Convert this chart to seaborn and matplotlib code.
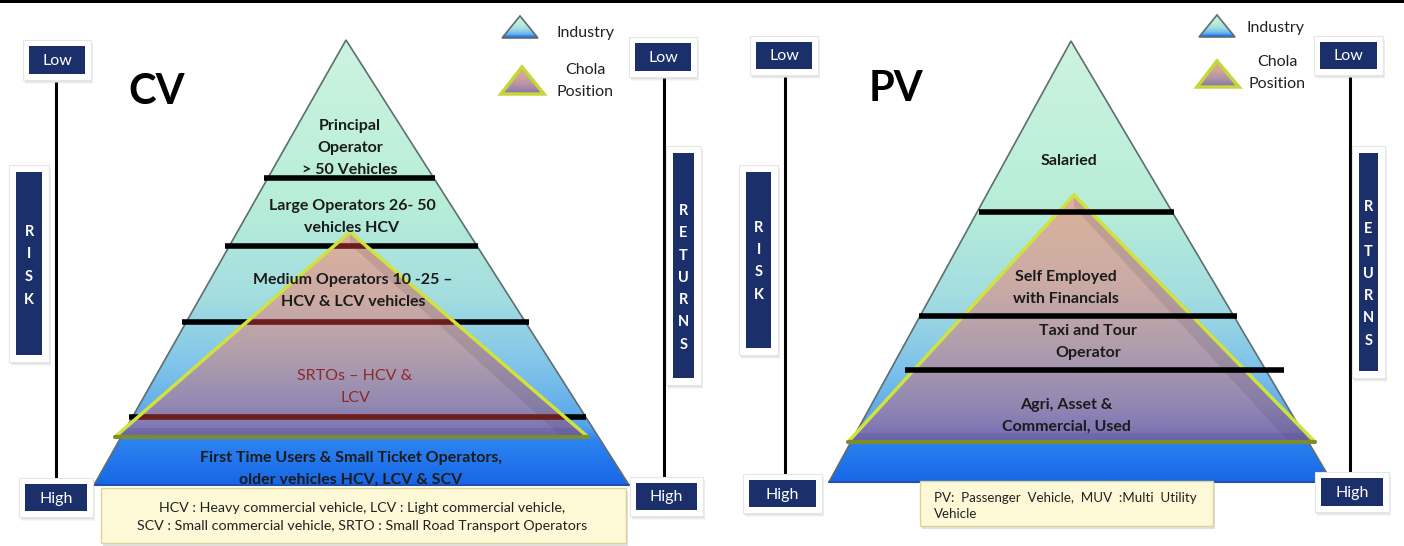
import numpy as np
import matplotlib
matplotlib.use("Agg")
import matplotlib.pyplot as plt
import seaborn as sns
from matplotlib.patches import Polygon, Rectangle
from matplotlib.colors import LinearSegmentedColormap

# ---------------- content ----------------
cv_title = "CV"
cv_segments = [
    "Principal\nOperator\n> 50 Vehicles",
    "Large Operators 26- 50\nvehicles HCV",
    "Medium Operators 10 -25 –\nHCV & LCV vehicles",
    "SRTOs – HCV &\nLCV",
    "First Time Users & Small Ticket Operators,\nolder vehicles HCV, LCV & SCV",
]
cv_note = ("HCV : Heavy commercial vehicle, LCV : Light commercial vehicle,\n"
           "SCV : Small commercial vehicle, SRTO : Small Road Transport Operators")

pv_title = "PV"
pv_segments = [
    "Salaried",
    "Self Employed\nwith Financials",
    "Taxi and Tour\nOperator",
    "Agri, Asset &\nCommercial, Used",
]
pv_note = "PV:  Passenger  Vehicle,  MUV  :Multi  Utility\nVehicle"

risk_label = "RISK"
returns_label = "RETURNS"
low_label, high_label = "Low", "High"
legend_labels = ["Industry", "Chola\nPosition"]

# ---------------- layout (pixel space) ----------------
W, H = 1404, 546
panels = {
    "cv": dict(
        industry=[(346, 40), (94, 485), (629, 485)],
        chola=[(350, 232), (115, 437), (588, 437)],
        bands=[(178, 264, 435), (246, 225, 478), (322, 182, 529), (417, 129, 586)],
        bands_on_top=False,
        label_xy=[(350, 148), (352, 217), (353, 291), (355, 387), (351, 469)],
        label_colors=["#1b1b1b", "#1b1b1b", "#1b1b1b", "#8b2a2a", "#1b1b1b"],
        label_weights=["bold", "bold", "bold", "normal", "bold"],
        title_xy=(157, 92),
        note_box=(101, 488, 626, 543), note_xy=(362, 517), note_ha="center",
        low_l=(29, 46, 85, 74), line_l=(56, 82, 478), risk=(16, 172, 42, 355),
        risk_y0=232, risk_dy=22.5, high_l=(25, 484, 87, 511),
        low_r=(635, 43, 691, 71), line_r=(664, 78, 478), ret=(673, 153, 694, 378),
        ret_y0=211, ret_dy=22.3, high_r=(636, 483, 697, 510),
        leg_ind=[(520, 16), (502, 38), (538, 38)], leg_cho=[(522, 67), (501, 94), (544, 94)],
        leg_txt=[(585, 33), (585, 81)],
    ),
    "pv": dict(
        industry=[(1071, 41), (829, 482), (1332, 482)],
        chola=[(1074, 195), (848, 442), (1315, 442)],
        bands=[(212, 979, 1174), (316, 919, 1237), (370, 905, 1284)],
        bands_on_top=True,
        label_xy=[(1069, 161), (1066, 288), (1088, 342), (1066, 416)],
        label_colors=["#1b1b1b"] * 4,
        label_weights=["bold"] * 4,
        title_xy=(896, 89),
        note_box=(920, 481, 1213, 526), note_xy=(934, 506), note_ha="left",
        low_l=(756, 42, 812, 69), line_l=(785, 77, 476), risk=(746, 172, 771, 348),
        risk_y0=228, risk_dy=22.2, high_l=(749, 480, 816, 507),
        low_r=(1320, 42, 1377, 69), line_r=(1350, 77, 476), ret=(1359, 153, 1378, 371),
        ret_y0=207, ret_dy=22.3, high_r=(1321, 478, 1383, 506),
        leg_ind=[(1217, 15), (1199, 37), (1235, 37)], leg_cho=[(1217, 61), (1197, 87), (1239, 87)],
        leg_txt=[(1276, 28), (1277, 73)],
    ),
}

NAVY = "#1b2f6b"
industry_cmap = LinearSegmentedColormap.from_list("industry", [
    (0.00, "#cdf3e0"), (0.36, "#b8eed8"), (0.58, "#a3dde0"), (0.74, "#7fc3ea"),
    (0.87, "#56a3ec"), (0.90, "#2d84f0"), (1.00, "#1767e6")])
chola_cmap = LinearSegmentedColormap.from_list("chola", [
    (0.00, "#e2a992"), (0.35, "#d2a39c"), (0.62, "#b796a4"), (0.85, "#9a82aa"),
    (1.00, "#8069aa")])

sns.set_theme(style="white")
plt.rcParams["font.family"] = ["Lato", "DejaVu Sans"]

fig = plt.figure(figsize=(W / 100, H / 100), dpi=100)
ax = fig.add_axes([0, 0, 1, 1])
ax.set_axis_off()


def gradient_fill(pts, cmap, z, alpha=1.0):
    poly = Polygon(pts, closed=True, facecolor="none", edgecolor="none")
    ax.add_patch(poly)
    xs = [p[0] for p in pts]
    ys = [p[1] for p in pts]
    grad = np.linspace(0, 1, 256).reshape(-1, 1)
    im = ax.imshow(grad, cmap=cmap, aspect="auto", alpha=alpha, zorder=z,
                   extent=(min(xs), max(xs), max(ys), min(ys)), origin="upper")
    im.set_clip_path(poly)
    return poly


def chola_span(tri, y):
    (tx, ty), (lx, ly), (rx, ry) = tri
    f = (y - ty) / (ly - ty)
    return tx + f * (lx - tx), tx + f * (rx - tx)


def shadow_box(x0, y0, x1, y1, pad=6):
    for k, a in ((4, 0.06), (3, 0.08), (2, 0.10)):
        ax.add_patch(Rectangle((x0 - pad + k * 0.5, y0 - pad + k), x1 - x0 + 2 * pad,
                               y1 - y0 + 2 * pad, facecolor="#7a7a7a", alpha=a,
                               edgecolor="none", zorder=5))
    ax.add_patch(Rectangle((x0 - pad, y0 - pad), x1 - x0 + 2 * pad, y1 - y0 + 2 * pad,
                           facecolor="white", edgecolor="#e6e6e6", lw=0.8, zorder=6))
    ax.add_patch(Rectangle((x0, y0), x1 - x0, y1 - y0, facecolor=NAVY,
                           edgecolor="none", zorder=7))


def label_box(rect, text):
    x0, y0, x1, y1 = rect
    shadow_box(x0, y0, x1, y1)
    ax.text((x0 + x1) / 2, (y0 + y1) / 2 + 1, text, color="white", fontsize=11.5,
            ha="center", va="center", zorder=8)


def letter_box(rect, word, y0, dy):
    x0, ya, x1, yb = rect
    shadow_box(x0, ya, x1, yb, pad=7)
    for i, ch in enumerate(word):
        ax.text((x0 + x1) / 2, y0 + i * dy, ch, color="white", fontsize=10.5,
                fontweight="bold", ha="center", va="center", zorder=8)


# top rule
ax.add_patch(Rectangle((0, 0), W, 3, facecolor="black", edgecolor="none", zorder=1))

for key, segs, title, note in (("cv", cv_segments, cv_title, cv_note),
                               ("pv", pv_segments, pv_title, pv_note)):
    p = panels[key]

    # industry pyramid
    gradient_fill(p["industry"], industry_cmap, 2)
    ax.add_patch(Polygon(p["industry"], closed=True, facecolor="none",
                         edgecolor="#5e6e70", lw=1.2, zorder=2.1))
    _, (bx, by), (cx, cy) = p["industry"]
    ax.plot([bx, cx], [by, cy], color="#1f4fb0", lw=1.5, zorder=2.2)

    band_z = 4.5 if p["bands_on_top"] else 2.5
    for y, xa, xb in p["bands"]:
        ax.hlines(y, xa, xb, color="black", lw=4, zorder=band_z)

    # Chola position pyramid
    tri = p["chola"]
    cpoly = gradient_fill(tri, chola_cmap, 3, alpha=0.86)
    (tx, ty), (lx, ly), (rx, ry) = tri
    # shaded right face and darker base strip
    shade = Polygon([(tx, ty), (rx, ry), (rx - 26, ry), (tx, ty + 12)], closed=True,
                    facecolor="#3a3550", alpha=0.13, edgecolor="none", zorder=3.1)
    ax.add_patch(shade)
    strip = Rectangle((lx, ly - 9), rx - lx, 9, facecolor="#4a4a90", alpha=0.22,
                      edgecolor="none", zorder=3.1)
    ax.add_patch(strip)
    strip.set_clip_path(cpoly)
    if not p["bands_on_top"]:
        for y, xa, xb in p["bands"]:
            sa, sb = chola_span(tri, y)
            if sb > sa:
                ax.hlines(y, max(sa, xa), min(sb, xb), color="#6e1d1d", lw=4, zorder=3.2)
    ax.plot([lx, tx, rx], [ly, ty, ry], color="#cfe23e", lw=2.5, zorder=3.5,
            solid_joinstyle="miter")
    ax.plot([lx, rx], [ly, ry], color="#7f8c2e", lw=3, zorder=3.5)

    # segment labels
    for txt, (x, y), col, wt in zip(segs, p["label_xy"], p["label_colors"],
                                    p["label_weights"]):
        ax.text(x, y, txt, ha="center", va="center", fontsize=11.5, fontweight=wt,
                color=col, linespacing=1.7, zorder=9)

    ax.text(*p["title_xy"], title, ha="center", va="center", fontsize=30,
            fontweight="bold", color="black", zorder=9)

    # footnote box
    nx0, ny0, nx1, ny1 = p["note_box"]
    ax.add_patch(Rectangle((nx0 + 2, ny0 + 3), nx1 - nx0, ny1 - ny0, facecolor="#8a8a8a",
                           alpha=0.25, edgecolor="none", zorder=5))
    ax.add_patch(Rectangle((nx0, ny0), nx1 - nx0, ny1 - ny0, facecolor="#fdf8d6",
                           edgecolor="#dcd49a", lw=1, zorder=6))
    if p["note_ha"] == "center":
        ax.text(*p["note_xy"], note, ha="center", va="center", fontsize=10.3,
                color="#222222", linespacing=1.65, zorder=9)
    else:
        ax.text(*p["note_xy"], note, ha="left", va="center", fontsize=9.6,
                color="#222222", linespacing=1.45, zorder=9)

    # risk / returns scales
    for (x, ya, yb) in (p["line_l"], p["line_r"]):
        ax.vlines(x, ya, yb, color="black", lw=2.2, zorder=4)
    label_box(p["low_l"], low_label)
    label_box(p["high_l"], high_label)
    label_box(p["low_r"], low_label)
    label_box(p["high_r"], high_label)
    letter_box(p["risk"], risk_label, p["risk_y0"], p["risk_dy"])
    letter_box(p["ret"], returns_label, p["ret_y0"], p["ret_dy"])

    # legend
    gradient_fill(p["leg_ind"], industry_cmap, 3)
    ax.add_patch(Polygon(p["leg_ind"], closed=True, facecolor="none",
                         edgecolor="#5e6e70", lw=1.2, zorder=3.2))
    gradient_fill(p["leg_cho"], chola_cmap, 3)
    ax.add_patch(Polygon(p["leg_cho"], closed=True, facecolor="none",
                         edgecolor="#c4d63a", lw=2.5, zorder=3.2))
    for txt, (x, y) in zip(legend_labels, p["leg_txt"]):
        ax.text(x, y, txt, ha="center", va="center", fontsize=11.5, color="#222222",
                linespacing=1.8, zorder=9)

ax.set_xlim(0, W)
ax.set_ylim(H, 0)
fig.savefig("out.png", dpi=100, facecolor="white")
